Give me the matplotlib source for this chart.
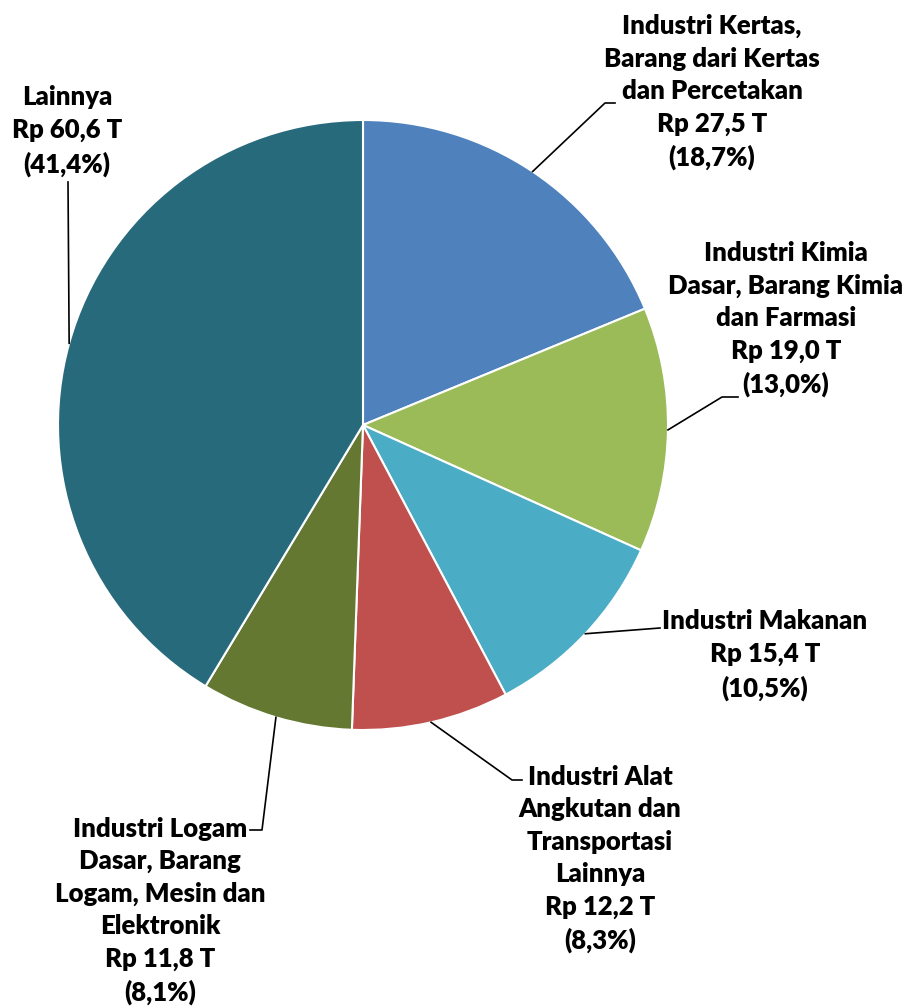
import numpy as np
import matplotlib.pyplot as plt

# sector data (Rp triliun) and share labels
names = ["Industri Kertas,\nBarang dari Kertas\ndan Percetakan",
         "Industri Kimia\nDasar, Barang Kimia\ndan Farmasi",
         "Industri Makanan",
         "Industri Alat\nAngkutan dan\nTransportasi\nLainnya",
         "Industri Logam\nDasar, Barang\nLogam, Mesin dan\nElektronik",
         "Lainnya"]
values = [27.5, 19.0, 15.4, 12.2, 11.8, 60.6]
amounts = ["Rp 27,5 T", "Rp 19,0 T", "Rp 15,4 T", "Rp 12,2 T", "Rp 11,8 T", "Rp 60,6 T"]
shares = ["(18,7%)", "(13,0%)", "(10,5%)", "(8,3%)", "(8,1%)", "(41,4%)"]
colors = ["#4F81BD", "#9BBB59", "#4BACC6", "#C0504D", "#647832", "#276A7C"]

W, H = 908, 1008
cx, cy, r = 363, H - 425, 305

# label block centre and leader elbow points (pixel coords, y down)
label_xy = [(712, 92), (786, 319), (765, 655), (600, 859), (160, 911), (67, 131)]
elbows = [[(605, 103), (615, 103)],
          [(722, 397), (738, 397)],
          [(660, 628)],
          [(512, 780), (522, 780)],
          [(262, 830), (250, 830)],
          [(68, 182)]]

fig = plt.figure(figsize=(W / 100, H / 100), dpi=100)
ax = fig.add_axes([0, 0, 1, 1])

wedges, _ = ax.pie(values, colors=colors, startangle=90, counterclock=False,
                   center=(cx, cy), radius=r,
                   wedgeprops=dict(edgecolor='white', linewidth=1.5))
ax.set_xlim(0, W)
ax.set_ylim(0, H)
ax.set_aspect('equal')
ax.axis('off')

for i, w in enumerate(wedges):
    mid = np.deg2rad((w.theta1 + w.theta2) / 2)
    pts = [(cx + r * np.cos(mid), cy + r * np.sin(mid))]
    pts += [(x, H - y) for x, y in elbows[i]]
    xs, ys = zip(*pts)
    ax.plot(xs, ys, color='black', lw=1.2)
    lx, ly = label_xy[i]
    ax.text(lx, H - ly, names[i] + "\n" + amounts[i] + "\n" + shares[i],
            ha='center', va='center', fontsize=18.5, fontweight='heavy',
            family=['Lato', 'DejaVu Sans'], linespacing=1.42, color='black')

fig.savefig('out.png', dpi=100)
